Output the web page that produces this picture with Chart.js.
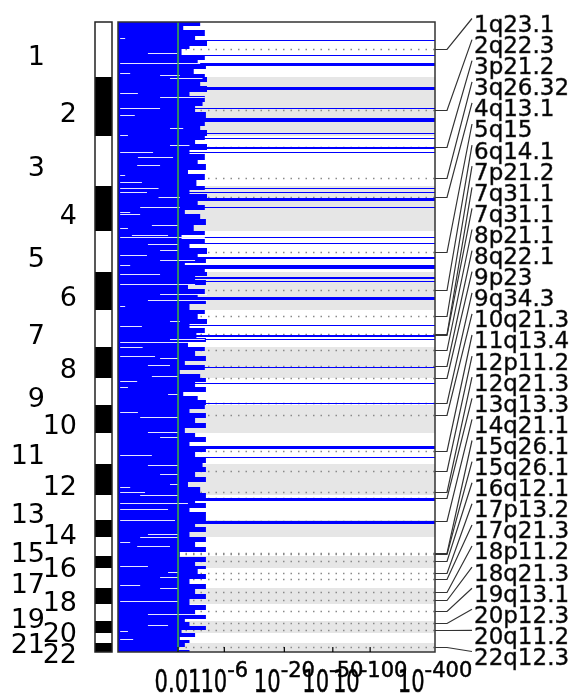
<!DOCTYPE html>
<html>
<head>
<meta charset="utf-8">
<script src="https://cdn.jsdelivr.net/npm/chart.js@4.4.0/dist/chart.umd.min.js"></script>
<style>
  html, body { margin: 0; padding: 0; background: #fff; }
</style>
</head>
<body>
<canvas id="qplot" width="579" height="700"></canvas>
<script>
// chromosomes, positions in genome bins (0 = top of plot)
const chromNames = ['1','2','3','4','5','6','7','8','9','10','11','12','13','14','15','16','17','18','19','20','21','22'];
const chromStart = [0,55,114,164,209,250,288,325,356,383,411,442,473,498,515,534,546,566,582,599,611,621];
const genomeEnd = 630;

// q-value axis, values are -log10(q)
const tickQ = [2, 6, 20, 50, 100, 400];
const tickBase = ['0.01', '10', '10', '10', '10', '10'];
const tickSup = ['', '-6', '-20', '-50', '-100', '-400'];
const axisMaxQ = 330;
const thresholdQ = 2;

// score profile: segment start bin and -log10(q)
const profStart = [0,4,8,14,18,24,27,33,38,42,47,52,
  55,60,64,70,74,80,84,90,96,99,104,108,
  114,118,122,128,132,138,142,148,152,158,
  164,168,172,178,183,188,192,197,203,
  209,213,217,221,226,232,236,241,245,
  250,254,258,263,267,272,277,282,
  288,292,297,302,306,311,316,320,
  325,329,334,339,343,348,352,
  356,360,365,370,374,378,
  383,387,391,396,401,406,
  411,415,420,425,430,435,
  441,445,450,455,460,465,
  471,476,481,486,490,
  495,500,505,510,
  515,520,525,530,
  535,540,544,
  547,552,557,562,
  567,572,577,
  583,588,593,597,
  600,604,608,
  611,615,618,
  621,625,628];
const profVal = [3.5,2.3,3.9,3.1,4.1,2.7,2.2,3.9,3.3,4.0,3.0,3.9,
  4.1,3.5,4.1,2.7,3.9,3.7,3.1,4.0,2.4,3.9,3.5,4.1,
  3.9,3.1,4.1,2.7,3.9,3.3,4.0,2.6,3.9,3.2,
  3.9,2.7,4.1,3.3,3.9,2.4,3.5,4.0,3.0,
  3.9,2.2,3.9,2.7,4.1,3.3,4.0,2.4,3.9,
  4.1,3.1,4.0,2.6,3.9,3.3,4.0,2.7,
  3.9,3.3,4.1,2.7,3.9,3.2,4.0,2.6,
  3.9,3.1,4.0,2.4,3.9,2.1,3.5,
  4.0,3.1,4.0,2.3,3.3,4.0,
  3.9,2.7,4.0,3.1,4.0,2.4,
  3.1,4.0,2.7,4.0,3.1,4.0,
  3.7,4.0,3.1,4.0,2.6,3.5,
  4.0,3.1,4.0,2.7,4.0,
  4.0,3.1,4.0,2.7,
  4.0,3.1,4.0,2.1,
  4.0,3.1,4.0,
  3.3,4.0,2.7,4.0,
  3.1,4.0,2.7,
  4.0,3.1,4.0,2.4,
  2.7,4.0,2.2,
  3.1,2.1,2.7,
  2.4,2.0,2.7];

// off-scale peaks (full width lines): start bin, width in bins
const spikeStart = [18,33,41,65,86,96,111,116,125,130,166,170,176,185,215,221,235,243,255,259,275,303,313,317,345,361,381,424,435,476,499];
const spikeWidth = [1,1,3,3,1,4,1,1,2,1,1,1,3,1,1,1,2,4,2,1,3,1,2,1,1,1,1,3,1,3,3];
const spikeQ = 400;

// gaps inside the score area: bin, from and to (-log10 q)
const gapBin = [16,31,41,51,53,56,71,75,86,93,106,113,123,130,135,143,153,160,166,170,175,185,190,192,
  203,206,213,215,222,228,233,238,243,252,262,272,278,284,299,304,317,320,325,334,336,343,354,359,365,372,
  390,395,410,415,433,443,452,462,465,470,473,481,487,498,512,515,520,524,544,550,555,563,566,579,592,603,609,617];
const gapFrom = [0.04,0.73,0.04,0.04,1.16,1.59,0.04,1.16,0.04,0.04,1.59,0.04,1.59,0.04,0.44,0.42,0.04,0.04,0.04,0.04,1.1,0.5,0.04,0.04,
  0.86,0.04,0.29,0.04,0.73,1.16,0.04,1.16,0.04,0.04,0.04,1.16,0.73,0.04,1.59,0.04,1.59,0.04,0.04,0.04,1.16,0.73,0.86,0.04,0.04,1.5,
  0.04,0.5,0.73,1.16,0.04,0.73,1.16,1.59,0.04,0.04,0.5,0.04,0.04,0.04,0.73,0.5,0.04,0.42,0.04,1.5,1.16,0.04,1.16,0.04,0.73,0.73,0.04,0.04];
const gapTo = [0.14,1.95,3.5,0.25,2.1,3.7,0.44,3.9,1.16,0.36,2.3,0.2,2.7,0.9,1.74,1.16,0.14,0.55,1.1,0.7,2.1,2.1,0.25,0.5,
  2.0,0.2,1.5,3.9,2.0,2.0,0.7,3.1,0.25,1.16,3.1,4.1,4.1,0.14,2.1,0.55,3.9,3.9,0.57,0.97,2.0,1.59,2.0,0.42,0.2,2.0,
  0.44,2.0,2.0,2.0,0.86,2.0,2.0,2.0,0.25,0.64,2.0,2.6,1.5,1.84,2.0,2.0,0.25,1.59,0.73,2.0,2.0,0.5,2.0,2.0,3.1,1.5,0.2,0.32];

// significant peaks
const peakNames = ['1q23.1','2q22.3','3p21.2','3q26.32','4q13.1','5q15','6q14.1','7p21.2','7q31.1','7q31.1',
  '8p21.1','8q22.1','9p23','9q34.3','10q21.3','11q13.4','12p11.2','12q21.3','13q13.3','14q21.1',
  '15q26.1','15q26.1','16q12.1','17p13.2','17q21.3','18p11.2','18q21.3','19q13.1','20p12.3','20q11.2','22q12.3'];
const peakPos = [27,88,125,156,175,230,268,294,312,313,328,344,356,381,393,429,449,470,476,499,
  531,532,539,551,557,570,578,589,601,608,625];

const tx = v => Math.log10(1 + v);

// build the stepped profile
const binVal = new Array(genomeEnd).fill(0);
profStart.forEach((s, i) => {
  const e = i + 1 < profStart.length ? profStart[i + 1] : genomeEnd;
  for (let b = s; b < e; b++) binVal[b] = profVal[i];
});
spikeStart.forEach((s, i) => {
  for (let b = s; b < s + spikeWidth[i]; b++) binVal[b] = spikeQ;
});
const profilePts = [];
let segStart = 0;
for (let b = 1; b <= genomeEnd; b++) {
  if (b === genomeEnd || binVal[b] !== binVal[segStart]) {
    profilePts.push({x: tx(binVal[segStart]), y: segStart});
    profilePts.push({x: tx(binVal[segStart]), y: b});
    segStart = b;
  }
}

const datasets = [];
peakPos.forEach(p => {
  datasets.push({
    data: [{x: 0, y: p + 0.5}, {x: tx(axisMaxQ), y: p + 0.5}],
    borderColor: '#8a8a8a', borderWidth: 1.5, borderDash: [1.5, 6],
    pointRadius: 0, fill: false, order: 5
  });
});
datasets.push({
  data: profilePts, borderWidth: 0, pointRadius: 0,
  backgroundColor: '#0000ff', fill: 'origin', order: 4
});
gapBin.forEach((b, i) => {
  datasets.push({
    data: [{x: tx(gapFrom[i]), y: b + 0.5}, {x: tx(gapTo[i]), y: b + 0.5}],
    borderColor: 'rgba(255,255,255,0.9)', borderWidth: 1, pointRadius: 0, fill: false, order: 3
  });
});
datasets.push({
  data: [{x: tx(thresholdQ), y: 0}, {x: tx(thresholdQ), y: genomeEnd}],
  borderColor: '#3cb43c', borderWidth: 1.5, pointRadius: 0, fill: false, order: 1
});

function squeezedText(ctx, text, x, y, font, sx) {
  ctx.save();
  ctx.translate(x, y);
  ctx.scale(sx, 1);
  ctx.font = font;
  ctx.textAlign = 'left';
  ctx.fillText(text, 0, 0);
  ctx.lineWidth = 0.5;
  ctx.strokeText(text, 0, 0);
  ctx.restore();
}

const decor = {
  id: 'decor',
  beforeDatasetsDraw(chart) {
    const {ctx, chartArea: a, scales: {y}} = chart;
    ctx.save();
    ctx.fillStyle = '#e6e6e6';
    for (let i = 1; i < chromStart.length; i += 2) {
      const top = y.getPixelForValue(chromStart[i]);
      const bot = y.getPixelForValue(i + 1 < chromStart.length ? chromStart[i + 1] : genomeEnd);
      ctx.fillRect(a.left, top, a.right - a.left, bot - top);
    }
    ctx.restore();
  },
  afterDraw(chart) {
    const {ctx, chartArea: a, scales: {x, y}} = chart;
    ctx.save();

    // ideogram
    const ix0 = 95, ix1 = 112;
    chromStart.forEach((s, i) => {
      const top = y.getPixelForValue(s);
      const bot = y.getPixelForValue(i + 1 < chromStart.length ? chromStart[i + 1] : genomeEnd);
      if (i % 2 === 1) {
        ctx.fillStyle = '#000';
        ctx.fillRect(ix0, top, ix1 - ix0, bot - top);
      }
      ctx.fillStyle = '#000';
      ctx.font = '27px "DejaVu Sans"';
      ctx.textAlign = 'right';
      ctx.textBaseline = 'alphabetic';
      ctx.fillText(chromNames[i], i % 2 === 0 ? 45 : 77, (top + bot) / 2 + 15);
    });
    ctx.strokeStyle = '#222';
    ctx.lineWidth = 1.5;
    ctx.strokeRect(ix0, a.top, ix1 - ix0, a.bottom - a.top);

    // plot frame
    ctx.strokeStyle = '#333';
    ctx.lineWidth = 1.5;
    ctx.strokeRect(a.left, a.top, a.right - a.left, a.bottom - a.top);

    // ticks and labels
    ctx.fillStyle = '#000';
    ctx.strokeStyle = '#000';
    tickQ.forEach((q, i) => {
      let px = x.getPixelForValue(tx(q));
      if (px <= a.right) {
        ctx.lineWidth = 1.2;
        ctx.beginPath();
        ctx.moveTo(px, a.bottom);
        ctx.lineTo(px, a.bottom - 5);
        ctx.stroke();
      } else {
        px = a.right;
      }
      const baseFont = '32px "DejaVu Sans"', supFont = '21px "DejaVu Sans"';
      const sx = 0.66;
      ctx.font = baseFont;
      const wb = ctx.measureText(tickBase[i]).width * sx;
      ctx.font = supFont;
      const ws = ctx.measureText(tickSup[i]).width;
      const x0 = px - (wb + ws) / 2;
      squeezedText(ctx, tickBase[i], x0, 692, baseFont, sx);
      if (tickSup[i]) squeezedText(ctx, tickSup[i], x0 + wb, 677, supFont, 1);
    });

    // peak connectors and names
    ctx.strokeStyle = '#333';
    ctx.fillStyle = '#000';
    peakNames.forEach((n, i) => {
      const py = y.getPixelForValue(peakPos[i] + 0.5);
      const ly = 23.5 + 21.1 * i;
      ctx.lineWidth = 1.2;
      ctx.beginPath();
      ctx.moveTo(a.right, py);
      ctx.lineTo(a.right + 12, py);
      ctx.lineTo(472, ly - 5);
      ctx.stroke();
      squeezedText(ctx, n, 474, ly + 8.4, '23px "DejaVu Sans"', 1);
    });
    ctx.restore();
  }
};

new Chart(document.getElementById('qplot'), {
  type: 'line',
  data: {datasets},
  options: {
    indexAxis: 'y',
    responsive: false,
    animation: false,
    events: [],
    layout: {padding: {left: 118, right: 144, top: 22, bottom: 48}},
    plugins: {legend: {display: false}, tooltip: {enabled: false}},
    scales: {
      x: {type: 'linear', min: 0, max: tx(axisMaxQ), display: false},
      y: {type: 'linear', min: 0, max: genomeEnd, reverse: true, display: false}
    }
  },
  plugins: [decor]
});
</script>
</body>
</html>
